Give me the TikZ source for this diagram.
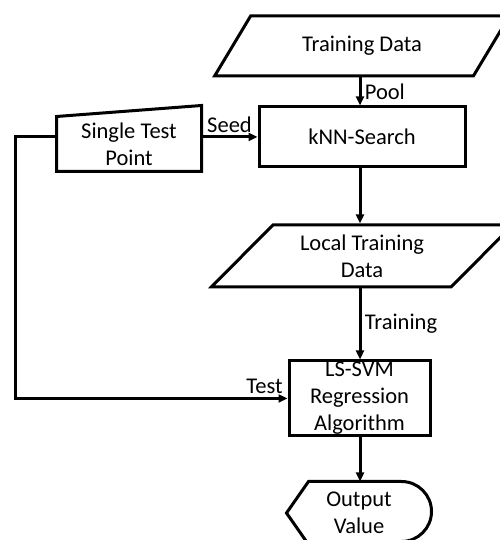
\documentclass[tikz,border=0pt]{standalone}
\usepackage{fontspec}
\setmainfont{Carlito}
\usetikzlibrary{shapes.geometric,arrows.meta}

\begin{document}
\begin{tikzpicture}[x=1pt,y=1pt,line width=3pt,>={Triangle[length=9pt,width=8pt]},
    font=\fontsize{22.5}{27}\selectfont]

      \useasboundingbox (0,0) rectangle (499,540);

      \begin{scope}[every node/.style={trapezium,draw,trapezium left angle=45,
          trapezium right angle=135,trapezium stretches=true,inner sep=0pt,align=center}]
        \node[minimum width=295pt,minimum height=60pt] (train) at (362,494) {Training Data};
        \node[minimum width=302pt,minimum height=62pt] (local) at (362,284) {Local Training\\Data};
      \end{scope}

      \begin{scope}[every node/.style={align=center,inner sep=0pt}]
        \node[draw,minimum width=206pt,minimum height=60pt] (knn) at (362,403) {kNN-Search};
        \node[draw,minimum width=141pt,minimum height=75pt] (svm) at (359.5,141.5) {LS-SVM\\Regression\\Algorithm};
        \node[minimum width=142pt,minimum height=52pt] (stp) at (129,396) {Single Test\\Point};
        \node[minimum width=142pt,minimum height=60pt] (out) at (359,27) {Output\\Value};
      \end{scope}

      % manual input and display outlines
      \draw (stp.south west) -- (stp.north west) -- ([yshift=11pt]stp.north east)
        -- (stp.south east) -- cycle;
      \draw (out.west) -- ([xshift=22pt]out.north west) -- ([xshift=-30pt]out.north east)
        arc[start angle=90,end angle=-90,radius=30pt] -- ([xshift=22pt]out.south west) -- cycle;

      \coordinate (bend) at (15,0);

      \begin{scope}[every edge/.style={draw,->}]
        \path (train.south -| 360,0) edge node[right] {Pool} (knn.north -| 360,0);
        \path (knn.south -| 360,0) edge (local.north -| 360,0);
        \path (local.south -| 360,0) edge node[right] {Training} (svm.north -| 360,0);
        \path (svm.south -| 360,0) edge (out.north -| 360,0);
        \path (knn.west -| stp.east) edge node[above] {Seed} (knn.west);
      \end{scope}

      \draw[->] (knn.west -| stp.west) -- (knn.west -| bend) |- (svm.west)
        node[above left] {Test};

    \end{tikzpicture}
\end{document}
